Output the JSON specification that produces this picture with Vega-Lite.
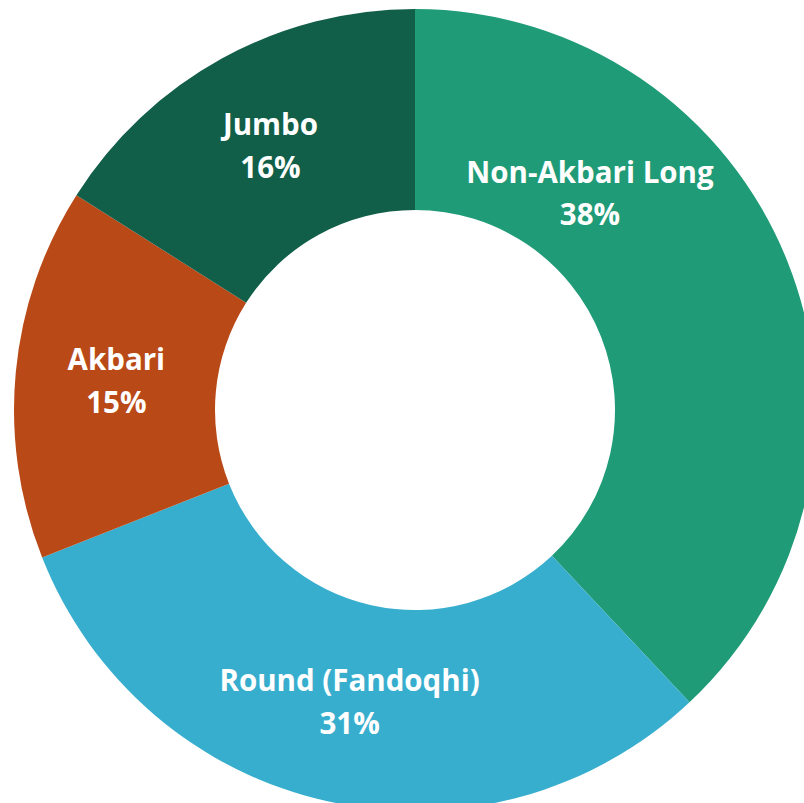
{
  "$schema": "https://vega.github.io/schema/vega-lite/v6.json",
  "width": 830,
  "height": 820,
  "padding": 0,
  "autosize": {"type": "none"},
  "background": "white",
  "config": {"view": {"stroke": null}},
  "data": {
    "values": [
      {"category": "Non-Akbari Long", "share": 0.38, "index": 1},
      {"category": "Round (Fandoqhi)", "share": 0.31, "index": 2},
      {"category": "Akbari", "share": 0.15, "index": 3},
      {"category": "Jumbo", "share": 0.16, "index": 4}
    ]
  },
  "encoding": {
    "theta": {"field": "share", "type": "quantitative", "stack": true},
    "order": {"field": "index", "type": "quantitative", "sort": "ascending"}
  },
  "layer": [
    {
      "mark": {"type": "arc", "outerRadius": 401, "innerRadius": 200},
      "encoding": {
        "color": {
          "field": "category",
          "type": "nominal",
          "scale": {
            "domain": ["Non-Akbari Long", "Round (Fandoqhi)", "Akbari", "Jumbo"],
            "range": ["#1F9B77", "#37AECE", "#B94A17", "#115E49"]
          },
          "legend": null
        }
      }
    },
    {
      "mark": {"type": "text", "radius": 300, "dy": -21, "font": "Open Sans", "fontWeight": "bold", "fontSize": 29.5, "color": "white", "align": "center", "baseline": "middle"},
      "encoding": {
        "text": {"field": "category", "type": "nominal"},
        "opacity": {"condition": {"test": "datum.category === 'Non-Akbari Long'", "value": 0}, "value": 1}
      }
    },
    {
      "mark": {"type": "text", "radius": 300, "dy": 22, "font": "Open Sans", "fontWeight": "bold", "fontSize": 29.5, "color": "white", "align": "center", "baseline": "middle"},
      "encoding": {
        "text": {"field": "share", "type": "quantitative", "format": ".0%"},
        "opacity": {"condition": {"test": "datum.category === 'Non-Akbari Long'", "value": 0}, "value": 1}
      }
    },
    {
      "transform": [{"filter": "datum.category === 'Non-Akbari Long'"}],
      "mark": {"type": "text", "radius": 278, "thetaOffset": -0.513, "dy": -20, "font": "Open Sans", "fontWeight": "bold", "fontSize": 29.5, "color": "white", "align": "center", "baseline": "middle"},
      "encoding": {
        "text": {"field": "category", "type": "nominal"}
      }
    },
    {
      "transform": [{"filter": "datum.category === 'Non-Akbari Long'"}],
      "mark": {"type": "text", "radius": 278, "thetaOffset": -0.513, "dy": 22, "font": "Open Sans", "fontWeight": "bold", "fontSize": 29.5, "color": "white", "align": "center", "baseline": "middle"},
      "encoding": {
        "text": {"field": "share", "type": "quantitative", "format": ".0%"}
      }
    }
  ]
}
